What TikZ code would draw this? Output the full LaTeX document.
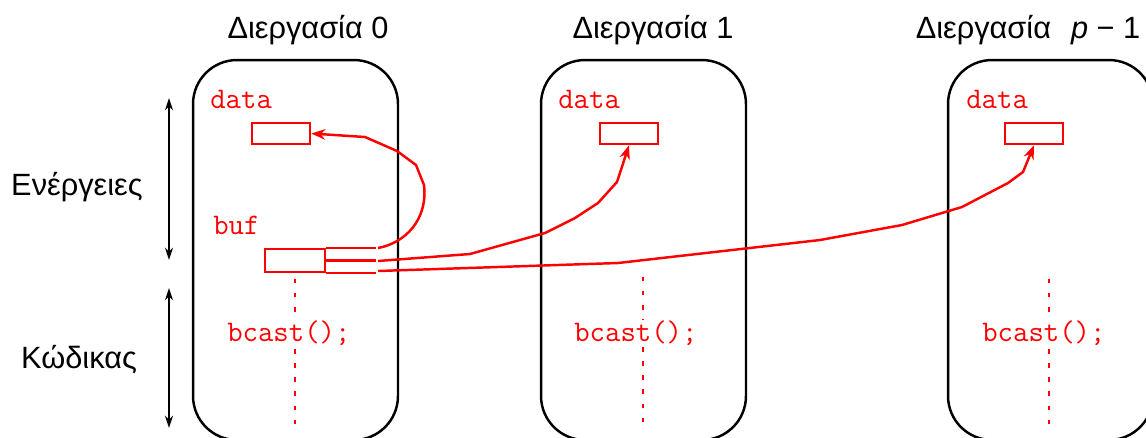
\documentclass[tikz,border=0pt]{standalone}
\usepackage{fontspec}
\setmainfont{Liberation Sans}
\usetikzlibrary{positioning,arrows.meta}
\tikzset{
  proc/.style={draw, line width=1.4pt, rounded corners=0.88cm, minimum width=4.1cm, minimum height=7.6cm},
  buffer/.style={draw=red, line width=1.4pt, minimum width=1.16cm, minimum height=0.42cm, inner sep=0pt},
  codetext/.style={text=red, font=\fontsize{17}{19}\selectfont\ttfamily, inner sep=0pt},
  heading/.style={font=\fontsize{17.5}{20}\selectfont, inner sep=0pt},
  msg/.style={draw=red, line width=1.4pt, line join=round, -{Stealth[length=8pt,width=6pt]}},
  stub/.style={draw=red, line width=1.4pt},
  dotline/.style={draw=red, line width=1.6pt, dash pattern=on 2.5pt off 5.5pt},
  span/.style={line width=1.3pt, {Stealth[length=7pt,width=4.5pt]}-{Stealth[length=7pt,width=4.5pt]}}
}
\begin{document}
\begin{tikzpicture}[x=0.02cm, y=-0.02cm]
      \useasboundingbox (0,0) rectangle (1146,437);
      \node[proc] (P0) at (295.5,250) {};
      \node[proc] (P1) at (643.5,250) {};
      \node[proc] (P2) at (1050.5,250) {};
      \node[heading, anchor=base] (T0) at (308,38) {Διεργασία 0};
      \node[heading, anchor=base] (T1) at (653,38) {Διεργασία 1};
      \node[heading, anchor=base] (T2) at (1028,38) {Διεργασία\hspace{0.65em}{\itshape p} − 1};
      \node[heading, anchor=base] (Act) at (77,195) {Ενέργειες};
      \node[heading, anchor=base] (Code) at (79,368) {Κώδικας};

      \coordinate (A1) at (169,98);
      \coordinate (A2) at (169,260);
      \coordinate (A3) at (169,288);
      \coordinate (A4) at (169,428);
      \draw[span] (A1) -- (A2);
      \draw[span] (A3) -- (A4);

      \node[codetext, anchor=base west] (Data0) at (210,108) {data};
      \node[codetext, anchor=base west] (Data1) at (558,108) {data};
      \node[codetext, anchor=base west] (Data2) at (966,108) {data};
      \node[buffer] (D0) at (281,133.5) {};
      \node[buffer] (D1) at (629,133.5) {};
      \node[buffer] (D2) at (1034,133.5) {};
      \node[codetext, anchor=base west] (Buf) at (213,234) {buf};
      \node[buffer, minimum width=1.2cm, minimum height=0.46cm] (B) at (295,260.5) {};

      \coordinate (L0a) at (295,279);
      \coordinate (L0b) at (295,426);
      \coordinate (L1a) at (643,277);
      \coordinate (L1b) at (643,426);
      \coordinate (L2a) at (1049,279);
      \coordinate (L2b) at (1049,426);
      \draw[dotline] (L0a) -- (L0b);
      \draw[dotline] (L1a) -- (L1b);
      \draw[dotline] (L2a) -- (L2b);
      \node[codetext, anchor=base west, fill=white] (C0) at (227,341) {bcast();};
      \node[codetext, anchor=base west, fill=white] (C1) at (574,341) {bcast();};
      \node[codetext, anchor=base west, fill=white] (C2) at (982,341) {bcast();};

      \coordinate (S0) at (378,248);
      \coordinate (S1) at (378,261);
      \coordinate (S2) at (378,271);
      \draw[stub] (B.north east) -- ++(50,0);
      \draw[stub] (B.east) -- ++(50,0);
      \draw[stub] (B.south east) -- ++(50,0);
      \draw[msg] (S0) .. controls (405,243) and (428,220) .. (424,185) -- (416,165) -- (397,151) -- (365,137) -- (D0.east);
      \draw[msg] (S1) -- (470,254) -- (545,233) -- (575,218) -- (598,203) -- (617,182) -- (D1.south);
      \draw[msg] (S2) -- (618,263) -- (820,240) -- (902,225) -- (962,207) -- (1008,183) -- (1023,172) -- (D2.south);
\end{tikzpicture}
\end{document}
